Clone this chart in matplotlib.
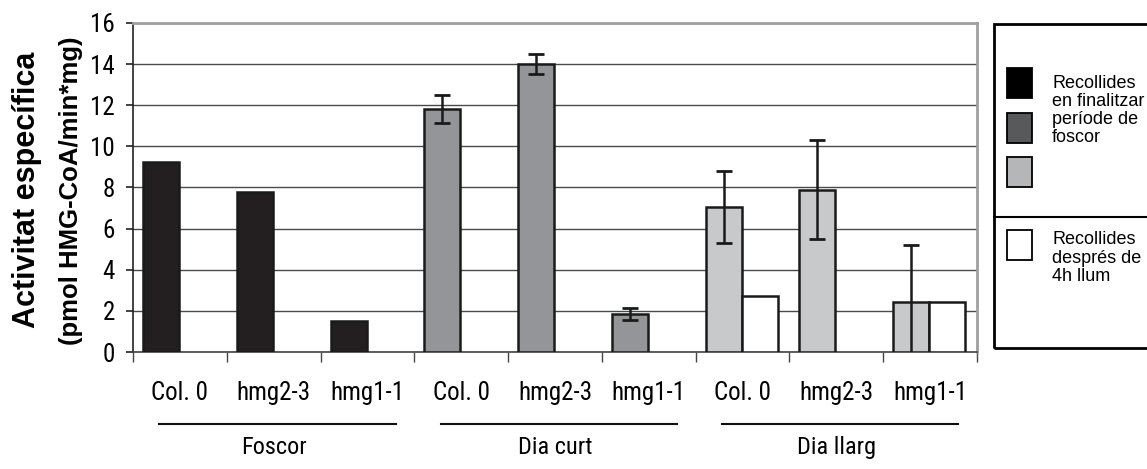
import numpy as np
import matplotlib
matplotlib.use("Agg")
import matplotlib.pyplot as plt
from matplotlib.patches import Rectangle
from matplotlib.lines import Line2D
import matplotlib.transforms as mtransforms

# ---- data ----
conditions = ["Foscor", "Dia curt", "Dia llarg"]
genotypes = ["Col. 0", "hmg2-3", "hmg1-1"]
foscor_vals = [9.25, 7.8, 1.5]
dia_curt_vals = [11.8, 14.0, 1.85]
dia_curt_err = [0.68, 0.48, 0.30]
dia_llarg_vals = [7.05, 7.9, 2.45]
dia_llarg_err = [1.75, 2.42, 2.77]
dia_llarg_light_vals = [2.7, np.nan, 2.45]
yticks = [0, 2, 4, 6, 8, 10, 12, 14, 16]
legend_dark_label = ["Recollides", "en finalitzar", "període de", "foscor"]
legend_light_label = ["Recollides", "després de", "4h llum"]

W, H = 1147, 469
NARROW = ["Roboto Condensed", "DejaVu Sans"]
ARIAL = ["Liberation Sans", "DejaVu Sans"]
fig = plt.figure(figsize=(W / 100, H / 100), dpi=100)
ax = fig.add_axes([133 / W, (H - 352) / H, (977 - 133) / W, (352 - 23) / H])

c_black, c_mid, c_light = "#231f20", "#939598", "#c8c9cb"
off, bw = 0.107, 0.384
edge = dict(edgecolor="#1a1a1a", linewidth=1.8, align="edge", zorder=3)

x = np.arange(3)
ax.bar(x + off, foscor_vals, bw, color=c_black, **edge)
ax.bar(x + 3 + off, dia_curt_vals, bw, color=c_mid, **edge)
ax.bar(x + 6 + off, dia_llarg_vals, bw, color=c_light, **edge)
ax.bar(x + 6 + off + bw, dia_llarg_light_vals, bw, color="white", **edge)

ekw = dict(fmt="none", ecolor="#1a1a1a", elinewidth=1.8, capsize=5.5, capthick=2, zorder=4)
ax.errorbar(x + 3 + off + bw / 2, dia_curt_vals, yerr=dia_curt_err, **ekw)
ax.errorbar(x + 6 + off + bw / 2, dia_llarg_vals, yerr=dia_llarg_err, **ekw)

ax.set_xlim(0, 9)
ax.set_ylim(0, 16)
ax.set_yticks(yticks)
ax.yaxis.grid(True, color="#4a4a4a", linewidth=1.0, zorder=0)
ax.set_axisbelow(True)
ax.tick_params(axis="y", direction="out", length=5, width=1.2, pad=8, labelsize=18, color="#222")
for lab in ax.get_yticklabels():
    lab.set_family(NARROW)
ax.set_xticks(np.arange(10))
ax.set_xticklabels([])
ax.tick_params(axis="x", which="major", direction="out", length=7.5, width=1.0, color="#444")
ax.set_xticks(np.arange(9) + 0.5, minor=True)
ax.set_xticklabels(genotypes * 3, minor=True, family=NARROW, fontsize=18)
ax.tick_params(axis="x", which="minor", length=0, pad=21)

for s in ["top", "right"]:
    ax.spines[s].set_color("#a0a0a0")
    ax.spines[s].set_linewidth(2)
ax.spines["left"].set_color("#222")
ax.spines["left"].set_linewidth(1.2)
ax.spines["bottom"].set_color("#444")
ax.spines["bottom"].set_linewidth(1.2)

# group lines and labels
tr = mtransforms.blended_transform_factory(ax.transData, ax.transAxes)
for i, cond in enumerate(conditions):
    ax.add_line(Line2D([3 * i + 0.28, 3 * i + 2.8], [-0.219, -0.219], transform=tr,
                       color="#111", linewidth=1.5, clip_on=False))
    ax.text(3 * i + 1.5, -0.289, cond, transform=tr, ha="center", va="center",
            family=NARROW, fontsize=17.5)

# y labels
fig.text(27 / W, (H - 190) / H, "Activitat específica", rotation=90, ha="center", va="center",
         fontsize=22, fontweight="bold", family=ARIAL)
fig.text(71 / W, (H - 191) / H, "(pmol HMG-CoA/min*mg)", rotation=90, ha="center", va="center",
         fontsize=18.5, fontweight="bold", family=ARIAL)

# legend box
def fx(px):
    return px / W

def fy(py):
    return (H - py) / H

fig.add_artist(Rectangle((fx(994), fy(348)), fx(1160) - fx(994), fy(24) - fy(348),
                         transform=fig.transFigure, fill=False, edgecolor="black", linewidth=2))
fig.add_artist(Line2D([fx(994), fx(1150)], [fy(217), fy(217)], transform=fig.transFigure,
                      color="black", linewidth=1.5))
for (top, col) in [(68, "#000000"), (113, "#58595b"), (157, "#b5b6b8"), (230, "#ffffff")]:
    fig.add_artist(Rectangle((fx(1007), fy(top + 30)), fx(1032) - fx(1007), fy(top) - fy(top + 30),
                             transform=fig.transFigure, facecolor=col, edgecolor="black", linewidth=1.3))
for txt, yb in zip(legend_dark_label, [88, 106, 124, 142]):
    fig.text(fx(1052), fy(yb), txt, ha="left", va="baseline", family=ARIAL, fontsize=13)
for txt, yb in zip(legend_light_label, [244, 263, 281]):
    fig.text(fx(1052), fy(yb), txt, ha="left", va="baseline", family=ARIAL, fontsize=13)

fig.savefig("out.png", dpi=100)
